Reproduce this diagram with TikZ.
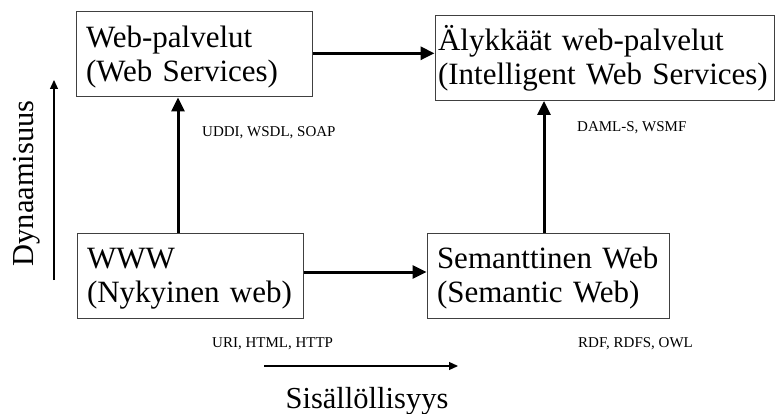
\documentclass[tikz,border=0pt]{standalone}
\usepackage{fontspec}
\setmainfont{Liberation Serif}
\usetikzlibrary{arrows.meta}
\tikzset{
  box/.style={draw=black!75, line width=1pt, align=left, anchor=center,
    font=\fontsize{31}{34}\selectfont, inner xsep=10pt, inner ysep=0pt,
    execute at begin node={\rule{0pt}{35.5pt}},
    execute at end node={\rule[-15.5pt]{0pt}{15.5pt}}},
  conn/.style={line width=3pt, -{Triangle[length=14pt,width=13pt]}},
  axis/.style={line width=1.2pt, -{Triangle[length=9pt,width=8pt]}},
  tech/.style={font=\fontsize{15}{17}\selectfont, anchor=base west, inner sep=0pt},
  axlabel/.style={font=\fontsize{30.5}{34}\selectfont, anchor=base, inner sep=0pt}
}
\begin{document}
\begin{tikzpicture}[x=1pt,y=-1pt]
\useasboundingbox (0,0) rectangle (775,414);
\node[box, minimum width=236pt, minimum height=85pt, text width=216pt] (tl) at (194,54.5) {Web-palvelut\\(Web Services)};
\node[box, minimum width=339pt, minimum height=84pt, text width=333pt, inner xsep=3pt] (tr) at (604.5,58) {Älykkäät web-palvelut\\(Intelligent Web Services)};
\node[box, minimum width=226pt, minimum height=85pt, text width=206pt] (bl) at (190,275.5) {WWW\\(Nykyinen web)};
\node[box, minimum width=242pt, minimum height=85pt, text width=222pt] (br) at (548,275.5) {Semanttinen Web\\(Semantic Web)};

\draw[conn] ([yshift=1.2pt]tl.east) -- ([yshift=1.2pt]tl.east -| tr.west);
\draw[conn] ([yshift=3.5pt]bl.east) -- ([yshift=3.5pt]bl.east -| br.west);
\draw[conn] ([xshift=-12pt]bl.north) -- ([xshift=-12pt]bl.north |- tl.south);
\draw[conn] ([xshift=-4pt]br.north) -- ([xshift=-4pt]br.north |- tr.south);

\node[tech] (t1) at (202,137) {UDDI, WSDL, SOAP};
\node[tech] (t2) at (577,132) {DAML-S, WSMF};
\node[tech] (t3) at (212,347) {URI, HTML, HTTP};
\node[tech] (t4) at (578,347) {RDF, RDFS, OWL};

\coordinate (ay0) at (54,280);
\coordinate (ay1) at (54,80);
\draw[axis] (ay0) -- (ay1);
\node[axlabel, rotate=90] (dyn) at (33,183.5) {Dynaamisuus};

\coordinate (ax0) at (264,366);
\coordinate (ax1) at (458,366);
\draw[axis] (ax0) -- (ax1);
\node[axlabel] (sis) at (367,408) {Sisällöllisyys};
\end{tikzpicture}
\end{document}
